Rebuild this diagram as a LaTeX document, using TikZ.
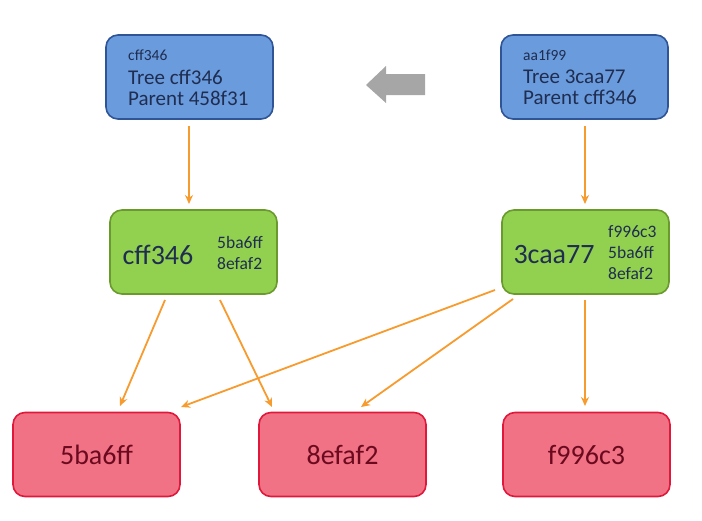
\documentclass[tikz,border=0pt]{standalone}
\usepackage{fontspec}
\setmainfont{Carlito}
\usetikzlibrary{arrows.meta}
\definecolor{bfill}{HTML}{6A9BDD}
\definecolor{bdraw}{HTML}{2F5597}
\definecolor{gfill}{HTML}{92D050}
\definecolor{gdraw}{HTML}{6A9A2E}
\definecolor{rfill}{HTML}{F07284}
\definecolor{rdraw}{HTML}{E0193C}
\definecolor{navy}{HTML}{1F2D50}
\definecolor{dred}{HTML}{6B0A1E}
\definecolor{org}{HTML}{F79B2E}
\definecolor{gr}{HTML}{A6A6A6}
\tikzset{
  box/.style={rounded corners=12pt, line width=1.6pt, minimum width=167pt, minimum height=84pt, inner sep=0pt},
  bluebox/.style={box, draw=bdraw, fill=bfill},
  greenbox/.style={box, draw=gdraw, fill=gfill},
  redbox/.style={box, draw=rdraw, fill=rfill, text=dred, font=\fontsize{28}{32}\selectfont},
  txt/.style={text=navy, inner sep=0pt, anchor=west},
  conn/.style={draw=org, line width=1.8pt, -{Stealth[length=9pt,width=8pt]}}
}
\begin{document}
\begin{tikzpicture}[x=1pt,y=-1pt]
\useasboundingbox (0,0) rectangle (702,520);
% blue
\node[bluebox] (b1) at (189.5,77) {};
\node[bluebox] (b2) at (584.5,77) {};
\node[txt, font=\fontsize{15.5}{18}\selectfont] (b1a) at (128,55) {cff346};
\node[txt, font=\fontsize{21}{21}\selectfont, align=left] (b1b) at (128,87.5) {Tree cff346\\Parent 458f31};
\node[txt, font=\fontsize{15.5}{18}\selectfont] (b2a) at (523,55) {aa1f99};
\node[txt, font=\fontsize{21}{21}\selectfont, align=left] (b2b) at (523,87.5) {Tree 3caa77\\Parent cff346};
% green
\node[greenbox] (g1) at (193.5,252) {};
\node[greenbox] (g2) at (585.5,252) {};
\node[text=navy, font=\fontsize{28}{32}\selectfont] (g1a) at (158,255) {cff346};
\node[txt, font=\fontsize{17.5}{21}\selectfont, align=left] (g1b) at (217,252.5) {5ba6ff\\8efaf2};
\node[text=navy, font=\fontsize{28}{32}\selectfont] (g2a) at (554,255) {3caa77};
\node[txt, font=\fontsize{17.5}{21}\selectfont, align=left] (g2b) at (608,253) {f996c3\\5ba6ff\\8efaf2};
% red
\node[redbox] (r1) at (96.5,454.5) {5ba6ff};
\node[redbox] (r2) at (342.5,454.5) {8efaf2};
\node[redbox] (r3) at (586.5,454.5) {f996c3};
% gray arrow
\fill[gr] (366,85) -- (386,66) -- (386,74) -- (425,74) -- (425,95) -- (386,95) -- (386,103) -- cycle;
% connectors
\coordinate (e1) at (189,204);
\coordinate (e2) at (585,204);
\coordinate (e3) at (120,406);
\coordinate (e4) at (272,407);
\coordinate (e5) at (181,407);
\coordinate (e6) at (361,407);
\coordinate (e7) at (585,406);
\coordinate (s1) at (189,126);
\coordinate (s2) at (585,126);
\coordinate (s3) at (165,300);
\coordinate (s4) at (220,300);
\coordinate (s5) at (495,290);
\coordinate (s6) at (513,299);
\coordinate (s7) at (585,300);
\draw[conn] (s1) -- (e1);
\draw[conn] (s2) -- (e2);
\draw[conn] (s3) -- (e3);
\draw[conn] (s4) -- (e4);
\draw[conn] (s5) -- (e5);
\draw[conn] (s6) -- (e6);
\draw[conn] (s7) -- (e7);
\end{tikzpicture}
\end{document}
